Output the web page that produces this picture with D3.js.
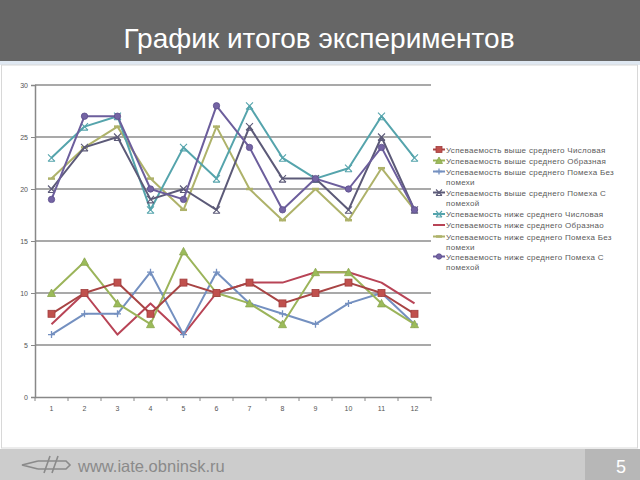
<!DOCTYPE html>
<html><head><meta charset="utf-8">
<script src="https://cdn.jsdelivr.net/npm/d3@7"></script>
<style>body{margin:0;background:#fff}svg{display:block}</style>
</head><body>
<script>
const categories = ["1","2","3","4","5","6","7","8","9","10","11","12"];
const yTicks = [0, 5, 10, 15, 20, 25, 30];
const titleText = "График итогов экспериментов";
const footerUrl = "www.iate.obninsk.ru";
const pageNumber = "5";

const seriesNames = [
  ["Успеваемость выше среднего Числовая"],
  ["Успеваемость выше среднего Образная"],
  ["Успеваемость выше среднего Помеха Без", "помехи"],
  ["Успеваемость выше среднего Помеха С", "помехой"],
  ["Успеваемость ниже среднего Числовая"],
  ["Успеваемость ниже среднего Образнао"],
  ["Успеваемость ниже среднего Помеха Без", "помехи"],
  ["Успеваемость ниже среднего Помеха С", "помехой"]
];
const s1 = [8, 10, 11, 8, 11, 10, 11, 9, 10, 11, 10, 8];
const s2 = [10, 13, 9, 7, 14, 10, 9, 7, 12, 12, 9, 7];
const s3 = [6, 8, 8, 12, 6, 12, 9, 8, 7, 9, 10, 7];
const s4 = [20, 24, 25, 19, 20, 18, 26, 21, 21, 18, 25, 18];
const s5 = [23, 26, 27, 18, 24, 21, 28, 23, 21, 22, 27, 23];
const s6 = [7, 10, 6, 9, 6, 10, 11, 11, 12, 12, 11, 9];
const s7 = [21, 24, 26, 21, 18, 26, 20, 17, 20, 17, 22, 18];
const s8 = [19, 27, 27, 20, 19, 28, 24, 18, 21, 20, 24, 18];

const seriesValues = [s1, s2, s3, s4, s5, s6, s7, s8];
const styles = [
  {line: "#a84444", mark: "square", fill: "#c0504d", stroke: "#a03c3c"},
  {line: "#9bb45a", mark: "triangle", fill: "#9bbb59", stroke: "#8aa44c"},
  {line: "#7490c0", mark: "plus", fill: "none", stroke: "#7490c0"},
  {line: "#5c5a78", mark: "x", fill: "none", stroke: "#5c5a78"},
  {line: "#55a4ac", mark: "x", fill: "none", stroke: "#55a4ac"},
  {line: "#b84456", mark: "none", fill: "none", stroke: "#b84456"},
  {line: "#aeb26a", mark: "dash", fill: "none", stroke: "#aeb26a"},
  {line: "#6c5e9c", mark: "circle", fill: "#7464a4", stroke: "#5c4e8c"}
];
const drawOrder = [6, 4, 3, 7, 5, 2, 1, 0];

const W = 640, H = 480;
const svg = d3.select("body").append("svg").attr("width", W).attr("height", H);

// header
svg.append("rect").attr("x", 0).attr("y", 0).attr("width", W).attr("height", 61).attr("fill", "#666666");
svg.append("rect").attr("x", 0).attr("y", 61).attr("width", W).attr("height", 4).attr("fill", "#dfe8f2");
svg.append("text").attr("x", 319).attr("y", 48).attr("text-anchor", "middle")
  .attr("font-family", "Liberation Sans, Arial, sans-serif").attr("font-size", 28)
  .attr("fill", "#ffffff").text(titleText);

// slide content border
svg.append("rect").attr("x", 1.5).attr("y", 65).attr("width", 636).attr("height", 383)
  .attr("fill", "none").attr("stroke", "#d8d8d8");

// footer
svg.append("rect").attr("x", 0).attr("y", 449).attr("width", W).attr("height", 31).attr("fill", "#cccccc");
svg.append("rect").attr("x", 585).attr("y", 449).attr("width", 55).attr("height", 31).attr("fill", "#b7b7b7");
svg.append("text").attr("x", 621).attr("y", 473).attr("text-anchor", "middle")
  .attr("font-family", "Liberation Sans, Arial, sans-serif").attr("font-size", 18)
  .attr("fill", "#ffffff").text(pageNumber);
svg.append("text").attr("x", 78).attr("y", 472)
  .attr("font-family", "Liberation Sans, Arial, sans-serif").attr("font-size", 16.5)
  .attr("fill", "#8a8a8a").text(footerUrl);
// logo
const logo = svg.append("g").attr("fill", "none").attr("stroke", "#8a8a8a").attr("stroke-width", 1.6);
logo.append("path").attr("d", "M38,461 L22,465 L38,469");
logo.append("path").attr("d", "M38,461 L66,461 L70,465 L66,469 L38,469");
logo.append("path").attr("d", "M44,473 L50,456");
logo.append("path").attr("d", "M52,473 L58,456");

// chart
const x = d3.scaleBand().domain(categories).range([35, 431]);
const y = d3.scaleLinear().domain([0, 30]).range([397, 85]);
const cx = c => x(c) + x.bandwidth() / 2;

const grid = svg.append("g");
grid.selectAll("line").data(yTicks.filter(t => t > 0)).join("line")
  .attr("x1", 35).attr("x2", 431).attr("y1", d => y(d)).attr("y2", d => y(d))
  .attr("stroke", "#8c8c8c").attr("stroke-width", 1.3);

const yAxis = svg.append("g").attr("transform", "translate(35,0)")
  .call(d3.axisLeft(y).tickValues(yTicks).tickSize(4).tickPadding(3));
yAxis.select(".domain").attr("stroke", "#888").attr("stroke-width", 1.5);
yAxis.selectAll(".tick line").attr("stroke", "#888");
yAxis.selectAll("text").attr("font-family", "Liberation Sans, Arial, sans-serif")
  .attr("font-size", 7).attr("fill", "#555");

const xAxis = svg.append("g").attr("transform", "translate(0,397)")
  .call(d3.axisBottom(x).tickSize(0).tickPadding(9).tickSizeOuter(0));
xAxis.select(".domain").attr("stroke", "#888").attr("stroke-width", 1.5);
xAxis.selectAll("text").attr("font-family", "Liberation Sans, Arial, sans-serif")
  .attr("font-size", 7).attr("fill", "#555");
const bounds = categories.map(c => x(c)).concat([x(categories[categories.length - 1]) + x.bandwidth()]);
svg.append("g").selectAll("line").data(bounds).join("line")
  .attr("x1", d => d).attr("x2", d => d).attr("y1", 397).attr("y2", 401)
  .attr("stroke", "#888");

function drawMarker(g, type, st, px, py, s) {
  s = s || 3.5;
  if (type === "square") {
    g.append("rect").attr("x", px - s).attr("y", py - s).attr("width", 2 * s).attr("height", 2 * s)
      .attr("fill", st.fill).attr("stroke", st.stroke).attr("stroke-width", 0.8);
  } else if (type === "triangle") {
    g.append("path").attr("d", `M${px},${py - s - 0.5} L${px + s + 0.5},${py + s} L${px - s - 0.5},${py + s} Z`)
      .attr("fill", st.fill).attr("stroke", st.stroke).attr("stroke-width", 0.8);
  } else if (type === "plus") {
    g.append("path").attr("d", `M${px - s},${py} L${px + s},${py} M${px},${py - s} L${px},${py + s}`)
      .attr("stroke", st.stroke).attr("stroke-width", 1.3);
  } else if (type === "x") {
    g.append("path").attr("d", `M${px - s},${py - s} L${px + s},${py + s} M${px - s},${py + s} L${px + s},${py - s} M${px - s},${py + s} L${px + s},${py + s}`)
      .attr("stroke", st.stroke).attr("stroke-width", 1.1).attr("fill", "none");
  } else if (type === "dash") {
    g.append("path").attr("d", `M${px - s},${py} L${px + s},${py}`)
      .attr("stroke", st.stroke).attr("stroke-width", 2.5);
  } else if (type === "circle") {
    g.append("circle").attr("cx", px).attr("cy", py).attr("r", s - 0.3)
      .attr("fill", st.fill).attr("stroke", st.stroke).attr("stroke-width", 0.8);
  }
}

const line = d3.line().x((d, i) => cx(categories[i])).y(d => y(d));
const plot = svg.append("g");
drawOrder.forEach(k => {
  const st = styles[k];
  const g = plot.append("g");
  g.append("path").datum(seriesValues[k]).attr("d", line)
    .attr("fill", "none").attr("stroke", st.line).attr("stroke-width", 2)
    .attr("stroke-linejoin", "round");
  seriesValues[k].forEach((v, i) => drawMarker(g, st.mark, st, cx(categories[i]), y(v)));
});

// legend
const legendRows = [149.5, 160.5, 171.5, 192.5, 214, 225, 236.5, 256.5];
const leg = svg.append("g");
seriesNames.forEach((lines, k) => {
  const st = styles[k];
  const yy = legendRows[k];
  leg.append("line").attr("x1", 433).attr("x2", 445).attr("y1", yy).attr("y2", yy)
    .attr("stroke", st.line).attr("stroke-width", 2);
  drawMarker(leg, st.mark, st, 439, yy, 3);
  lines.forEach((t, j) => {
    leg.append("text").attr("x", 446).attr("y", yy + 3 + j * 10.5)
      .attr("font-family", "Liberation Sans, Arial, sans-serif").attr("font-size", 8)
      .attr("letter-spacing", 0.3)
      .attr("fill", "#5a5a5a").text(t);
  });
});
</script>
</body></html>
